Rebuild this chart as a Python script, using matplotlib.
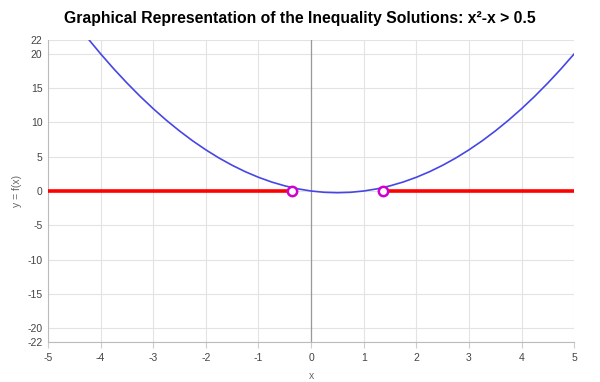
import matplotlib
matplotlib.use('Agg')
import matplotlib.pyplot as plt

plt.rcParams['font.family'] = ['Liberation Sans', 'DejaVu Sans']
plt.rcParams['axes.unicode_minus'] = False

# ── data ──────────────────────────────────────────────
curve_x = [-4.25, -4.0, -3.75, -3.5, -3.25, -3.0, -2.75, -2.5, -2.25, -2.0,
           -1.75, -1.5, -1.25, -1.0, -0.75, -0.5, -0.25, 0.0, 0.25, 0.5,
           0.75, 1.0, 1.25, 1.5, 1.75, 2.0, 2.25, 2.5, 2.75, 3.0,
           3.25, 3.5, 3.75, 4.0, 4.25, 4.5, 4.75, 5.0]
curve_y = [22.31, 20.0, 17.81, 15.75, 13.81, 12.0, 10.31, 8.75, 7.31, 6.0,
           4.81, 3.75, 2.81, 2.0, 1.31, 0.75, 0.31, 0.0, -0.19, -0.25,
           -0.19, 0.0, 0.31, 0.75, 1.31, 2.0, 2.81, 3.75, 4.81, 6.0,
           7.31, 8.75, 10.31, 12.0, 13.81, 15.75, 17.81, 20.0]

# solution intervals on the x axis
left_seg_x = [-5, -0.366]
right_seg_x = [1.366, 5]
roots_x = [-0.366, 1.366]
roots_y = [0, 0]

x_ticks = [-5, -4, -3, -2, -1, 0, 1, 2, 3, 4, 5]
y_ticks = [-22, -20, -15, -10, -5, 0, 5, 10, 15, 20, 22]

# ── plot ──────────────────────────────────────────────
fig = plt.figure(figsize=(6, 3.82), dpi=100)
ax = fig.add_axes([0.08, 0.105, 0.877, 0.79])

ax.grid(True, color='#e3e3e3', linewidth=0.8, zorder=0)
ax.axvline(0, color='#999999', linewidth=0.9, zorder=2)

ax.plot(curve_x, curve_y, color='#4646e6', linewidth=1.2, zorder=3)
ax.plot(left_seg_x, [0, 0], color='#ff0000', linewidth=2.6, zorder=4)
ax.plot(right_seg_x, [0, 0], color='#ff0000', linewidth=2.6, zorder=4)
ax.scatter(roots_x, roots_y, s=45, facecolor='white', edgecolor='#d000d0',
           linewidth=1.8, zorder=5)

ax.set_xlim(-5, 5)
ax.set_ylim(-22, 22)
ax.set_xticks(x_ticks)
ax.set_yticks(y_ticks)
ax.tick_params(labelsize=7.5, colors='#444444', length=0, pad=4)
ax.tick_params(axis='x', length=4, color='#cccccc')

for s in ['top', 'right']:
    ax.spines[s].set_visible(False)
for s in ['left', 'bottom']:
    ax.spines[s].set_color('#bbbbbb')

ax.set_xlabel('x', fontsize=7.5, color='#666666', labelpad=6)
ax.set_ylabel('y = f(x)', fontsize=7.5, color='#666666', labelpad=4)

fig.suptitle('Graphical Representation of the Inequality Solutions: x²-x > 0.5',
             fontsize=11.3, fontweight='bold', x=0.50, y=0.972)

fig.savefig('out.png', dpi=100, facecolor='white')
